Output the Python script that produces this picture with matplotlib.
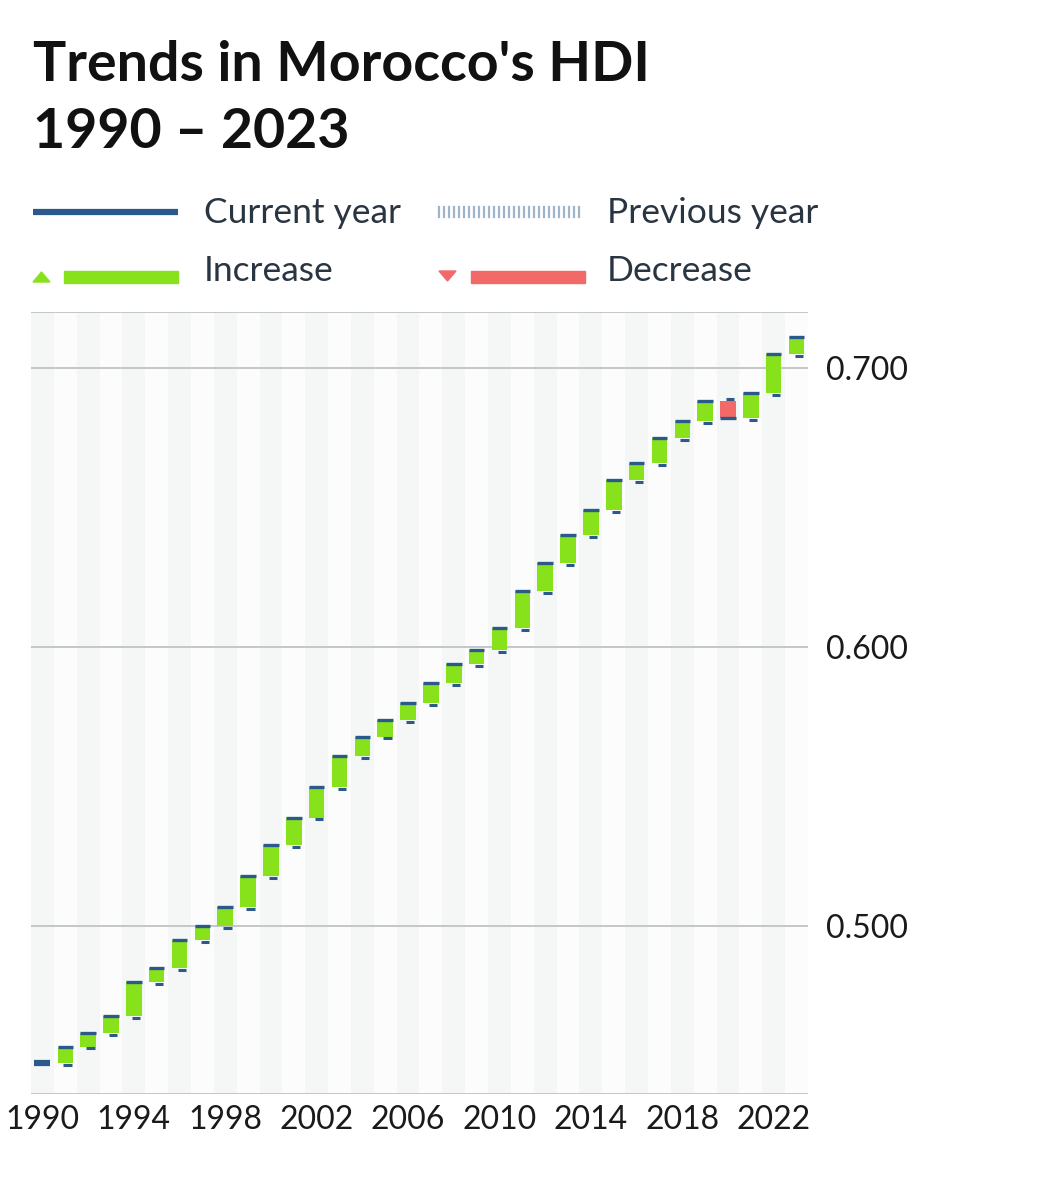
import matplotlib
matplotlib.use("Agg")
import matplotlib.pyplot as plt
from matplotlib.lines import Line2D
from matplotlib.patches import Polygon, Rectangle

plt.rcParams['font.family'] = ['Lato', 'DejaVu Sans']

# HDI values
years = list(range(1990, 2024))
hdi = [0.451, 0.457, 0.462, 0.468, 0.480, 0.485, 0.495, 0.500, 0.507, 0.518,
       0.529, 0.539, 0.550, 0.561, 0.568, 0.574, 0.580, 0.587, 0.594, 0.599,
       0.607, 0.620, 0.630, 0.640, 0.649, 0.660, 0.666, 0.675, 0.681, 0.688,
       0.682, 0.691, 0.705, 0.711]
ytick_vals = [0.5, 0.6, 0.7]
xtick_years = list(range(1990, 2023, 4))

GREEN = '#87e21c'
RED = '#f26a68'
BLUE = '#2b5a8a'
PREV = '#9fb4c9'
GRID = '#bfc3c8'
TEXT = '#2a3542'

W, H = 1049, 1200
fig = plt.figure(figsize=(W / 100, H / 100), dpi=100)

# title
fig.text(33 / W, 1 - 40 / H, "Trends in Morocco's HDI\n1990 \u2013 2023", fontsize=40,
         fontweight='bold', color='#111111', va='top', ha='left', linespacing=1.42)

# legend (drawn in figure pixel coords)
leg = fig.add_axes([0, 0, 1, 1], zorder=-1)
leg.set_xlim(0, W)
leg.set_ylim(H, 0)
leg.axis('off')
leg.add_line(Line2D([33, 178], [212, 212], color=BLUE, lw=4.5, solid_capstyle='butt'))
for xx in range(439, 584, 5):
    leg.add_line(Line2D([xx, xx], [207, 217], color=PREV, lw=1.6))
leg.add_patch(Polygon([[33, 282], [50, 282], [41.5, 272]], closed=True, color=GREEN))
leg.add_patch(Rectangle((64, 271), 114, 12, color=GREEN))
leg.add_patch(Polygon([[439, 271], [456, 271], [447.5, 281]], closed=True, color=RED))
leg.add_patch(Rectangle((471, 271), 114, 12, color=RED))
leg.text(204, 213, "Current year", fontsize=25.5, color=TEXT, va='center', ha='left')
leg.text(607, 213, "Previous year", fontsize=25.5, color=TEXT, va='center', ha='left')
leg.text(204, 271, "Increase", fontsize=25.5, color=TEXT, va='center', ha='left')
leg.text(607, 271, "Decrease", fontsize=25.5, color=TEXT, va='center', ha='left')

# main axes
ax = fig.add_axes([31 / W, 1 - 1094 / H, (808 - 31) / W, (1094 - 312) / H])
ax.set_xlim(1989.5, 2023.5)
ax.set_ylim(0.44, 0.72)

for i, yr in enumerate(years):
    ax.axvspan(yr - 0.5, yr + 0.5, color='#f5f7f7' if i % 2 == 0 else '#fcfcfc', lw=0, zorder=0)

for yv in ytick_vals + [0.72]:
    ax.axhline(yv, color=GRID, lw=1.3, zorder=1)
ax.axhline(0.44, color=GRID, lw=2, zorder=1)

bw = 0.68
dy = 0.0007
for i, yr in enumerate(years):
    cur = hdi[i]
    if i == 0:
        ax.hlines(cur, yr - 0.35, yr + 0.35, color=BLUE, lw=4.5, zorder=3)
        continue
    prev = hdi[i - 1]
    col = GREEN if cur >= prev else RED
    ax.bar(yr, cur - prev, bottom=prev, width=bw, color=col, zorder=2)
    ax.hlines(cur, yr - bw / 2, yr + bw / 2, color=BLUE, lw=2.4, zorder=3)
    off = -dy if cur >= prev else dy
    ax.hlines(prev + off, yr - 0.08, yr + 0.28, color=BLUE, lw=2.2, zorder=3)

for s in ax.spines.values():
    s.set_visible(False)

ax.set_xticks(xtick_years)
ax.set_xticklabels([str(y) for y in xtick_years], fontsize=23, color='#1a1a1a')
ax.tick_params(axis='x', length=0, pad=8)
ax.yaxis.tick_right()
ax.set_yticks(ytick_vals)
ax.set_yticklabels(['%.3f' % v for v in ytick_vals], fontsize=23, color='#1a1a1a')
ax.tick_params(axis='y', length=0, pad=13)

fig.savefig('out.png', dpi=100)
